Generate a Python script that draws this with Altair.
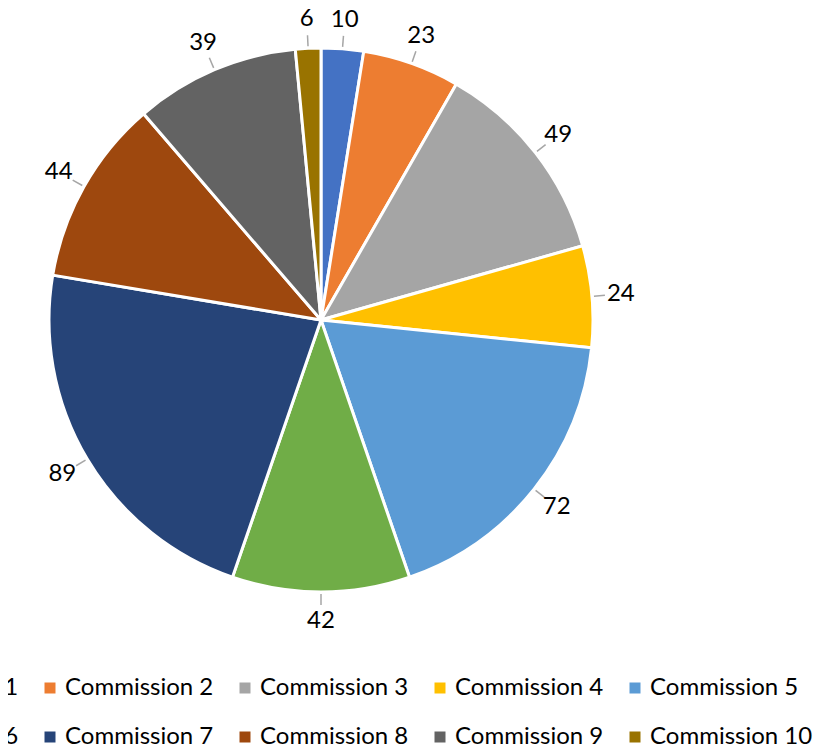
import altair as alt
import pandas as pd

names = ["Commission 1", "Commission 2", "Commission 3", "Commission 4", "Commission 5",
         "Commission 6", "Commission 7", "Commission 8", "Commission 9", "Commission 10"]
values = [10, 23, 49, 24, 72, 42, 89, 44, 39, 6]
colors = ["#4472C4", "#ED7D31", "#A5A5A5", "#FFC000", "#5B9BD5",
          "#70AD47", "#264478", "#9E480E", "#636363", "#997300"]

df = pd.DataFrame({"name": names, "value": values, "idx": list(range(len(names)))})

FONT = "Lato"
CX, CY = 313, 312
R = 272

color = alt.Color(
    "name:N",
    scale=alt.Scale(domain=names, range=colors),
    sort=names,
    legend=alt.Legend(
        title=None, orient="none", legendX=-165, legendY=668, columns=5,
        direction="horizontal", symbolType="square", symbolSize=121,
        symbolStrokeWidth=0, labelFont=FONT, labelFontSize=24, labelColor="#000000",
        labelOffset=3, columnPadding=5, rowPadding=25, gridAlign="all",
        labelLimit=300,
    ),
)

base = alt.Chart(df).encode(
    theta=alt.Theta("value:Q", stack=True),
    order=alt.Order("idx:Q"),
)

pie = base.mark_arc(outerRadius=R, stroke="white", strokeWidth=3).encode(
    color=color,
    x=alt.value(CX), y=alt.value(CY),
)

labels = base.mark_text(radius=301, font=FONT, fontSize=24, color="#000000").encode(
    text=alt.Text("value:Q"),
    x=alt.value(CX), y=alt.value(CY),
)

leaders = alt.Chart(df).transform_joinaggregate(
    total="sum(value)"
).transform_window(
    cum="sum(value)", sort=[alt.SortField("idx")], frame=[None, 0]
).transform_calculate(
    ang="(datum.cum - datum.value/2) / datum.total * 2 * PI",
    x1=f"{CX} + {R + 2} * sin(datum.ang)",
    y1=f"{CY} - {R + 2} * cos(datum.ang)",
    x2=f"{CX} + {R + 13} * sin(datum.ang)",
    y2=f"{CY} - {R + 13} * cos(datum.ang)",
).mark_rule(color="#A6A6A6", strokeWidth=1.5).encode(
    x=alt.X("x1:Q", scale=None), y=alt.Y("y1:Q", scale=None),
    x2="x2:Q", y2="y2:Q",
)

chart = alt.layer(pie, leaders, labels).properties(
    width=815, height=744,
    autosize=alt.AutoSizeParams(type="none"),
    padding=0,
).configure_view(stroke=None)

chart.save("out.html", embed_options={"renderer": "svg", "actions": False})
